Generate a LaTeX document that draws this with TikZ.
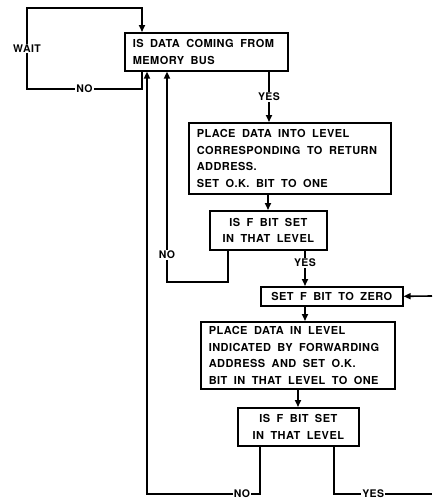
\documentclass[tikz,border=0pt]{standalone}
\usepackage{fontspec}
\usetikzlibrary{arrows.meta, positioning, calc}
\newfontfamily\flowfont[LetterSpace=4]{TeX Gyre Heros}

\begin{document}
\begin{tikzpicture}[
  x=1pt, y=-1pt,
  >={Triangle[length=7pt,width=6pt]},
  block/.style={
    rectangle, draw, line width=1.6pt,
    anchor=north west,
    align=left, inner xsep=8pt, inner ysep=2pt,
    font=\flowfont\bfseries\fontsize{11}{16.5}\selectfont,
    execute at begin node={\spaceskip=6.5pt\hyphenpenalty=10000\relax},
  },
  cblock/.style={block, align=center},
  line/.style={line width=1.6pt},
  arrow/.style={->, line width=1.6pt},
  lbl/.style={fill=white, inner sep=1pt,
    font=\flowfont\bfseries\fontsize{10.5}{11}\selectfont},
]
\useasboundingbox (0,0) rectangle (432,501);

% ── Boxes
\node[block, text width=147, minimum height=38] (memBus) at (124,32)
  {IS DATA COMING FROM\\MEMORY BUS};

\node[block, text width=186, minimum height=71] (placeReturn) at (188,122)
  {PLACE DATA INTO LEVEL\\CORRESPONDING TO RETURN\\ADDRESS.\\SET O.K. BIT TO ONE};

\node[cblock, text width=101, minimum height=39] (testF) at (209,210)
  {IS F BIT SET\\IN THAT LEVEL};

\node[cblock, text width=126, minimum height=19, inner ysep=1pt] (clearF) at (260,286)
  {SET F BIT TO ZERO};

\node[block, text width=178, minimum height=67] (placeFwd) at (200,321)
  {PLACE DATA IN LEVEL\\INDICATED BY FORWARDING\\ADDRESS AND SET O.K.\\BIT IN THAT LEVEL TO ONE};

\node[cblock, text width=105, minimum height=38] (testFnext) at (237,407)
  {IS F BIT SET\\IN THAT LEVEL};

% ── Turning points
\coordinate (waitBot) at (142,89);
\coordinate (waitTop) at (27,8);
\coordinate (noOne) at (167,282);
\coordinate (noTwo) at (147,494);
\coordinate (yesTwo) at (432,494);
\coordinate (yesBack) at (432,296);

% ── Wait loop
\draw[arrow] (memBus.south -| waitBot) -- (waitBot)
  -- node[lbl]{NO} (waitBot -| waitTop)
  -- node[lbl]{WAIT} (waitTop)
  -- (waitTop -| waitBot) -- (memBus.north -| waitBot);

% ── Main flow
\draw[arrow] (memBus.south -| 269,0) -- node[lbl, pos=0.5]{YES} (placeReturn.north -| 269,0);
\draw[arrow] (placeReturn.south -| 268,0) -- (testF.north -| 268,0);
\draw[arrow] (testF.south -| 305,0) -- node[lbl, pos=0.35]{YES} (clearF.north -| 305,0);
\draw[arrow] (clearF.south -| 305,0) -- (placeFwd.north -| 305,0);
\draw[arrow] (placeFwd.south -| 298,0) -- (testFnext.north -| 298,0);

% ── Return paths
\draw[arrow] (testF.south -| 228,0) |- (noOne)
  -- node[lbl, pos=0.13]{NO} (memBus.south -| noOne);
\draw[arrow] (testFnext.south -| 260,0) |- node[lbl, pos=0.58]{NO} (noTwo)
  -- (memBus.south -| noTwo);
\draw[line] (testFnext.south -| 334,0) |- node[lbl, pos=0.7]{YES} (yesTwo);
\draw[arrow] (yesBack) -- (clearF.east);

\end{tikzpicture}
\end{document}
